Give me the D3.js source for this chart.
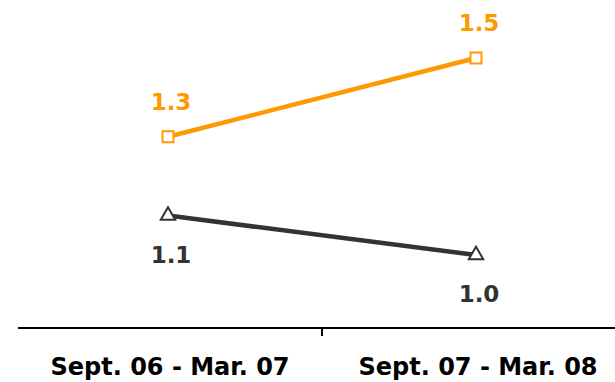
<!DOCTYPE html>
<html>
<head>
<meta charset="utf-8">
<script src="https://cdn.jsdelivr.net/npm/d3@7"></script>
<style>
  html, body { margin: 0; padding: 0; background: #fff; }
  svg { display: block; }
  text { font-family: "DejaVu Sans", sans-serif; font-weight: bold; }
</style>
</head>
<body>
<svg id="chart" width="615" height="382"></svg>
<script>
// Periods along the x axis
const periods = ["Sept. 06 - Mar. 07", "Sept. 07 - Mar. 08"];
// Two series of ratios per period
const upperValues = [1.3, 1.5];
const lowerValues = [1.1, 1.0];

const svg = d3.select("#chart");
const W = 615, H = 382;

const x = d3.scaleBand().domain(periods).range([14, 630]);
const y = d3.scaleLinear().domain([1.0, 1.5]).range([255, 58]);
const cx = d => x(d) + x.bandwidth() / 2;

// Axis baseline and the divider tick between the two periods
const axisY = 328;
svg.append("line")
  .attr("x1", 18).attr("x2", W)
  .attr("y1", axisY).attr("y2", axisY)
  .attr("stroke", "#000").attr("stroke-width", 2);
svg.append("line")
  .attr("x1", x(periods[1])).attr("x2", x(periods[1]))
  .attr("y1", axisY).attr("y2", axisY + 8)
  .attr("stroke", "#000").attr("stroke-width", 2);

svg.selectAll("text.period")
  .data(periods)
  .enter().append("text")
  .attr("class", "period")
  .attr("x", d => cx(d) + 2)
  .attr("y", 375)
  .attr("text-anchor", "middle")
  .attr("font-size", 24)
  .attr("fill", "#000")
  .text(d => d);

const line = d3.line().x((d, i) => cx(periods[i])).y(d => y(d));

function drawSeries(values, color, marker, labelDy) {
  svg.append("path")
    .datum(values)
    .attr("d", line)
    .attr("fill", "none")
    .attr("stroke", color)
    .attr("stroke-width", 4.5);

  svg.selectAll(null)
    .data(values)
    .enter().append("path")
    .attr("transform", (d, i) => `translate(${cx(periods[i])},${y(d)})`)
    .attr("d", d3.symbol().type(marker).size(marker === d3.symbolSquare ? 120 : 90))
    .attr("fill", "#fff")
    .attr("stroke", color)
    .attr("stroke-width", 2);

  svg.selectAll(null)
    .data(values)
    .enter().append("text")
    .attr("x", (d, i) => cx(periods[i]) + 3)
    .attr("y", d => y(d) + labelDy)
    .attr("text-anchor", "middle")
    .attr("font-size", 23)
    .attr("fill", color)
    .text(d => d.toFixed(1));
}

drawSeries(upperValues, "#ff9900", d3.symbolSquare, -27);
drawSeries(lowerValues, "#333333", d3.symbolTriangle, 47);
</script>
</body>
</html>
